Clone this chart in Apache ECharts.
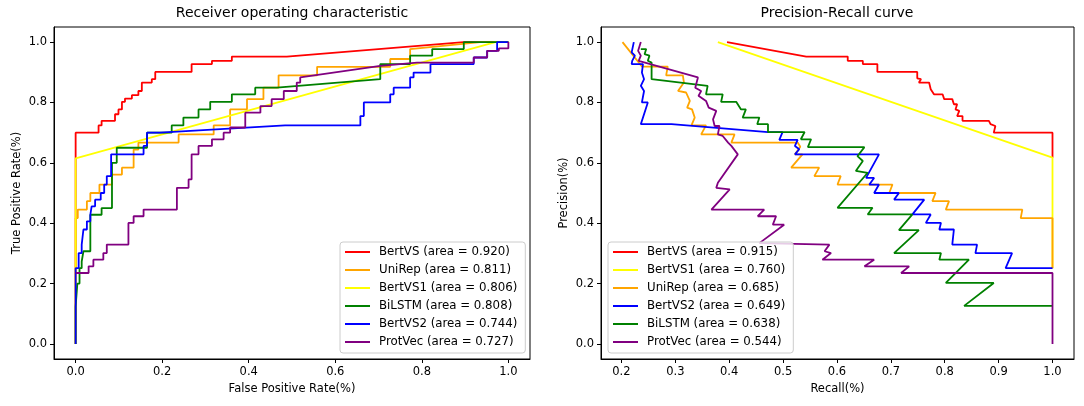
<!DOCTYPE html>
<html>
<head>
<meta charset="utf-8">
<script src="https://cdn.jsdelivr.net/npm/echarts@6/dist/echarts.min.js"></script>
<style>
html,body{margin:0;padding:0;background:#fff;}
#c{width:1084px;height:406px;}
</style>
</head>
<body>
<div id="c"></div>
<script>
// ---------- tick labels ----------
const rocTicks = [0, 0.2, 0.4, 0.6, 0.8, 1.0];
const prXTicks = [0.2, 0.3, 0.4, 0.5, 0.6, 0.7, 0.8, 0.9, 1.0];
const prYTicks = [0, 0.2, 0.4, 0.6, 0.8, 1.0];

// ---------- ROC curves: [false positive rate, true positive rate] ----------
const rocNames = ['BertVS (area = 0.920)', 'UniRep (area = 0.811)', 'BertVS1 (area = 0.806)',
                  'BiLSTM (area = 0.808)', 'BertVS2 (area = 0.744)', 'ProtVec (area = 0.727)'];
const rocColors = ['#ff0000', '#ffa500', '#ffff00', '#008000', '#0000ff', '#800080'];

const rocBertVS = [[0,0],[0,0.7],[0.053,0.7],[0.053,0.724],[0.06,0.724],[0.06,0.739],[0.091,0.739],[0.091,0.761],
  [0.099,0.761],[0.099,0.777],[0.107,0.777],[0.107,0.802],[0.114,0.802],[0.114,0.813],[0.130,0.813],[0.130,0.824],
  [0.145,0.824],[0.145,0.838],[0.153,0.838],[0.153,0.866],[0.176,0.866],[0.176,0.877],[0.184,0.877],[0.184,0.901],
  [0.268,0.901],[0.268,0.927],[0.315,0.927],[0.315,0.938],[0.361,0.938],[0.361,0.952],[0.488,0.952],[0.897,1.0],[1,1]];
const rocUniRep = [[0,0],[0,0.417],[0.005,0.417],[0.005,0.445],[0.026,0.445],[0.026,0.473],[0.034,0.473],[0.034,0.5],
  [0.055,0.5],[0.055,0.528],[0.084,0.528],[0.084,0.561],[0.107,0.561],[0.107,0.584],[0.134,0.584],[0.134,0.644],
  [0.145,0.644],[0.145,0.667],[0.238,0.667],[0.238,0.694],[0.319,0.694],[0.319,0.724],[0.357,0.724],[0.357,0.777],
  [0.396,0.777],[0.396,0.811],[0.434,0.811],[0.434,0.849],[0.469,0.849],[0.469,0.89],[0.558,0.89],[0.558,0.918],
  [0.727,0.918],[0.727,0.944],[0.773,0.944],[0.773,0.977],[0.935,1.0],[1,1]];
const rocBertVS1 = [[0,0],[0,0.615],[0.97,1.0],[1,1]];
const rocBiLSTM = [[0,0],[0,0.124],[0.004,0.124],[0.004,0.2],[0.009,0.2],[0.009,0.251],[0.014,0.251],[0.014,0.273],
  [0.018,0.273],[0.018,0.307],[0.034,0.307],[0.034,0.428],[0.06,0.428],[0.06,0.45],[0.084,0.45],[0.084,0.6],
  [0.095,0.6],[0.095,0.65],[0.165,0.65],[0.165,0.7],[0.222,0.7],[0.222,0.724],[0.249,0.724],[0.249,0.75],
  [0.284,0.75],[0.284,0.777],[0.311,0.777],[0.311,0.802],[0.361,0.802],[0.361,0.827],[0.415,0.827],[0.415,0.849],
  [0.465,0.849],[0.704,0.877],[0.704,0.927],[0.773,0.927],[0.773,0.955],[0.824,0.955],[0.824,0.977],[0.897,0.977],
  [0.897,1.0],[1,1]];
const rocBertVS2 = [[0,0],[0,0.251],[0.007,0.251],[0.007,0.301],[0.014,0.301],[0.014,0.329],[0.018,0.329],[0.018,0.379],
  [0.026,0.379],[0.026,0.406],[0.034,0.406],[0.034,0.428],[0.037,0.428],[0.037,0.456],[0.045,0.456],[0.045,0.478],
  [0.058,0.478],[0.058,0.5],[0.066,0.5],[0.066,0.528],[0.072,0.528],[0.072,0.556],[0.082,0.556],[0.082,0.628],
  [0.157,0.628],[0.157,0.656],[0.165,0.656],[0.165,0.7],[0.195,0.7],[0.484,0.724],[0.658,0.724],[0.658,0.755],
  [0.666,0.755],[0.666,0.8],[0.727,0.8],[0.727,0.827],[0.735,0.827],[0.735,0.849],[0.773,0.849],[0.773,0.883],
  [0.781,0.883],[0.781,0.899],[0.820,0.899],[0.820,0.927],[0.920,0.927],[0.920,0.949],[0.951,0.949],[0.951,0.971],
  [0.974,0.971],[0.974,1.0],[1,1]];
const rocProtVec = [[0,0.235],[0.030,0.235],[0.030,0.257],[0.041,0.257],[0.041,0.279],[0.064,0.279],[0.064,0.301],
  [0.072,0.301],[0.072,0.329],[0.122,0.329],[0.122,0.401],[0.134,0.401],[0.134,0.423],[0.157,0.423],[0.157,0.445],
  [0.234,0.445],[0.234,0.517],[0.261,0.517],[0.261,0.545],[0.268,0.545],[0.268,0.628],[0.284,0.628],[0.284,0.656],
  [0.315,0.656],[0.315,0.678],[0.342,0.678],[0.342,0.7],[0.357,0.7],[0.357,0.717],[0.392,0.717],[0.392,0.766],
  [0.427,0.766],[0.427,0.788],[0.453,0.788],[0.453,0.811],[0.481,0.811],[0.481,0.838],[0.511,0.838],[0.511,0.866],
  [0.519,0.866],[0.519,0.883],[0.704,0.921],[0.789,0.932],[0.920,0.932],[0.920,0.949],[0.951,0.949],[0.951,0.971],
  [0.978,0.971],[0.978,0.979],[1.0,0.979],[1,1]];

// ---------- PR curves: [recall, precision] ----------
const prNames = ['BertVS (area = 0.915)', 'BertVS1 (area = 0.760)', 'UniRep (area = 0.685)',
                 'BertVS2 (area = 0.649)', 'BiLSTM (area = 0.638)', 'ProtVec (area = 0.544)'];
const prColors = ['#ff0000', '#ffff00', '#ffa500', '#0000ff', '#008000', '#800080'];

const prBertVS = [[0.396,1.0],[0.543,0.952],[0.620,0.952],[0.620,0.938],[0.648,0.938],[0.648,0.927],[0.675,0.927],
  [0.675,0.901],[0.749,0.901],[0.749,0.880],[0.756,0.877],[0.752,0.866],[0.771,0.866],[0.774,0.844],[0.777,0.838],
  [0.780,0.827],[0.796,0.827],[0.799,0.811],[0.814,0.811],[0.817,0.794],[0.823,0.794],[0.820,0.777],[0.827,0.772],
  [0.823,0.755],[0.833,0.755],[0.833,0.739],[0.882,0.739],[0.885,0.728],[0.894,0.722],[0.891,0.700],[1.0,0.700],
  [1.0,0.617]];
const prBertVS1 = [[0.379,1.0],[1.0,0.617],[1.0,0.251]];
const prUniRep = [[0.202,1.0],[0.238,0.919],[0.286,0.919],[0.283,0.890],[0.314,0.890],[0.316,0.866],[0.305,0.838],
  [0.320,0.833],[0.327,0.805],[0.322,0.783],[0.331,0.777],[0.336,0.750],[0.330,0.724],[0.357,0.724],[0.348,0.694],
  [0.410,0.694],[0.404,0.667],[0.527,0.667],[0.532,0.653],[0.522,0.628],[0.536,0.628],[0.515,0.584],[0.567,0.584],
  [0.558,0.556],[0.607,0.556],[0.601,0.528],[0.703,0.528],[0.697,0.500],[0.783,0.500],[0.777,0.473],[0.808,0.473],
  [0.802,0.445],[0.944,0.445],[0.941,0.417],[1.0,0.417],[1.0,0.251]];
const prBertVS2 = [[0.223,1.0],[0.219,0.966],[0.225,0.955],[0.220,0.938],[0.219,0.927],[0.240,0.927],[0.238,0.899],
  [0.242,0.877],[0.236,0.855],[0.242,0.838],[0.238,0.800],[0.249,0.800],[0.236,0.728],[0.293,0.728],[0.472,0.702],
  [0.499,0.702],[0.493,0.676],[0.527,0.676],[0.522,0.656],[0.530,0.645],[0.522,0.628],[0.678,0.628],[0.654,0.550],
  [0.669,0.550],[0.660,0.528],[0.678,0.528],[0.669,0.500],[0.715,0.500],[0.706,0.478],[0.762,0.478],[0.740,0.429],
  [0.774,0.429],[0.765,0.401],[0.793,0.401],[0.790,0.379],[0.817,0.379],[0.814,0.329],[0.860,0.329],[0.857,0.301],
  [0.925,0.301],[0.913,0.251],[1.0,0.251]];
const prBiLSTM = [[0.236,0.977],[0.246,0.977],[0.243,0.960],[0.252,0.955],[0.249,0.938],[0.256,0.932],[0.256,0.877],
  [0.360,0.855],[0.357,0.827],[0.388,0.827],[0.385,0.802],[0.413,0.802],[0.422,0.777],[0.431,0.777],[0.425,0.750],
  [0.456,0.750],[0.452,0.728],[0.472,0.728],[0.472,0.702],[0.540,0.702],[0.533,0.678],[0.552,0.678],[0.546,0.652],
  [0.651,0.652],[0.638,0.622],[0.648,0.606],[0.635,0.573],[0.657,0.567],[0.601,0.451],[0.666,0.451],[0.657,0.429],
  [0.740,0.429],[0.715,0.377],[0.752,0.377],[0.706,0.301],[0.793,0.301],[0.790,0.279],[0.845,0.279],[0.802,0.202],
  [0.891,0.202],[0.836,0.126],[1.0,0.126]];
const prProtVec = [[0.236,1.0],[0.231,0.971],[0.236,0.955],[0.232,0.938],[0.234,0.932],[0.342,0.883],[0.337,0.849],
  [0.348,0.838],[0.343,0.822],[0.357,0.805],[0.362,0.783],[0.376,0.772],[0.370,0.744],[0.373,0.722],[0.382,0.722],
  [0.379,0.694],[0.388,0.689],[0.398,0.667],[0.404,0.656],[0.416,0.628],[0.379,0.534],[0.382,0.528],[0.376,0.517],
  [0.401,0.512],[0.367,0.445],[0.465,0.445],[0.453,0.423],[0.487,0.423],[0.481,0.395],[0.502,0.395],[0.456,0.334],
  [0.586,0.329],[0.577,0.307],[0.589,0.301],[0.573,0.279],[0.669,0.279],[0.651,0.257],[0.734,0.257],[0.719,0.235],
  [1.0,0.235],[1.0,0.0]];

const rocData = [rocBertVS, rocUniRep, rocBertVS1, rocBiLSTM, rocBertVS2, rocProtVec];
const prData = [prBertVS, prBertVS1, prUniRep, prBertVS2, prBiLSTM, prProtVec];

// ---------- chart ----------
const FONT = 'DejaVu Sans';
const FS = 11.5;
const FS_LEG = 11.8;
const LW = 1.8;
const fmt = v => Number(v).toFixed(1);

function valueAxis(gridIndex, min, max, ticks, name, nameGap) {
  return {
    type: 'value', gridIndex, min, max, name, nameLocation: 'middle', nameGap,
    nameTextStyle: { fontFamily: FONT, fontSize: FS, color: '#000' },
    axisLine: { show: true, onZero: false, lineStyle: { color: '#000', width: 1 } },
    axisTick: { show: true, inside: false, length: 4, customValues: ticks, lineStyle: { color: '#000', width: 1 } },
    axisLabel: { show: true, customValues: ticks, formatter: fmt, margin: 7,
      fontFamily: FONT, fontSize: FS, color: '#000' },
    splitLine: { show: false }
  };
}

const series = [];
rocData.forEach((d, i) => series.push({
  name: rocNames[i], type: 'line', xAxisIndex: 0, yAxisIndex: 0, data: d,
  color: rocColors[i], showSymbol: false, symbol: 'none', lineStyle: { width: LW, color: rocColors[i] },
  animation: false
}));
prData.forEach((d, i) => series.push({
  name: prNames[i], type: 'line', xAxisIndex: 1, yAxisIndex: 1, data: d,
  color: prColors[i], showSymbol: false, symbol: 'none', lineStyle: { width: LW, color: prColors[i] },
  animation: false
}));

function legend(left, names) {
  return {
    data: names, orient: 'vertical', left, top: 242,
    icon: 'rect', itemWidth: 25, itemHeight: 2, itemGap: 4,
    padding: [3, 8, 4, 5],
    backgroundColor: 'rgba(255,255,255,0.8)', borderColor: '#cccccc', borderWidth: 1, borderRadius: 3,
    textStyle: { fontFamily: FONT, fontSize: FS_LEG, color: '#000', lineHeight: 14, padding: [0, 0, 0, 4] },
    selectedMode: false
  };
}

const chart = echarts.init(document.getElementById('c'), null, { renderer: 'canvas' });
chart.setOption({
  animation: false,
  backgroundColor: '#ffffff',
  grid: [
    { left: 54, top: 27, width: 476, height: 332, show: true, borderColor: '#000', borderWidth: 1, backgroundColor: 'transparent' },
    { left: 601, top: 27, width: 473, height: 332, show: true, borderColor: '#000', borderWidth: 1, backgroundColor: 'transparent' }
  ],
  xAxis: [
    valueAxis(0, -0.05, 1.05, rocTicks, 'False Positive Rate(%)', 24),
    valueAxis(1, 0.1621, 1.0399, prXTicks, 'Recall(%)', 24)
  ],
  yAxis: [
    valueAxis(0, -0.05, 1.05, rocTicks, 'True Positive Rate(%)', 31),
    valueAxis(1, -0.05, 1.05, prYTicks, 'Precision(%)', 31)
  ],
  legend: [legend(340, rocNames), legend(608, prNames)],
  graphic: [
    { type: 'text', x: 292, y: 13, style: { text: 'Receiver operating characteristic', fontFamily: FONT, fontSize: 14,
      fill: '#000', textAlign: 'center', textVerticalAlign: 'middle' } },
    { type: 'text', x: 837, y: 13, style: { text: 'Precision-Recall curve', fontFamily: FONT, fontSize: 14,
      fill: '#000', textAlign: 'center', textVerticalAlign: 'middle' } }
  ],
  series
});
</script>
</body>
</html>
